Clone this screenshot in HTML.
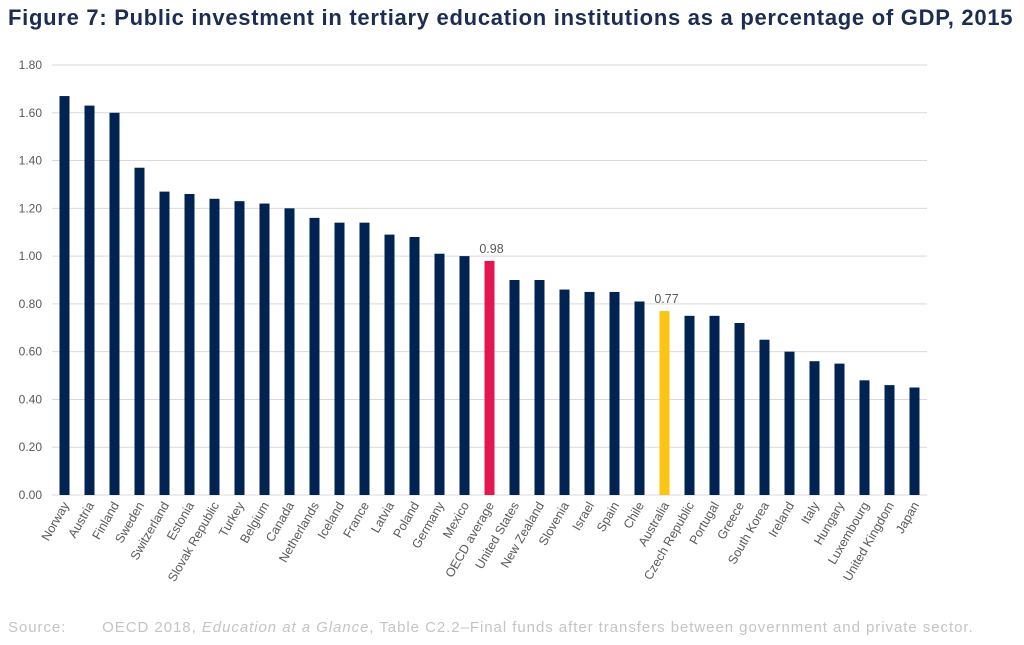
<!DOCTYPE html>
<html><head><meta charset="utf-8"><style>
body{margin:0;background:#fff;width:1024px;height:645px;overflow:hidden;font-family:"Liberation Sans",sans-serif}
#title{position:absolute;left:8px;top:5px;font-size:22px;font-weight:bold;color:#1b2d52;letter-spacing:0.72px;white-space:nowrap}
#src{position:absolute;left:8px;top:619px;font-size:15px;color:#c4c4c4;white-space:nowrap;letter-spacing:0.95px}
</style></head><body>
<div id="title">Figure 7: Public investment in tertiary education institutions as a percentage of GDP, 2015</div>
<svg id="chart" width="1024" height="645" style="position:absolute;left:0;top:0"></svg>
<div id="src">Source:&nbsp;&nbsp;&nbsp;&nbsp;&nbsp;&nbsp;&nbsp;OECD 2018, <i>Education at a Glance</i>, Table C2.2–Final funds after transfers between government and private sector.</div>
<script>
const categories=["Norway","Austria","Finland","Sweden","Switzerland","Estonia","Slovak Republic","Turkey","Belgium","Canada","Netherlands","Iceland","France","Latvia","Poland","Germany","Mexico","OECD average","United States","New Zealand","Slovenia","Israel","Spain","Chile","Australia","Czech Republic","Portugal","Greece","South Korea","Ireland","Italy","Hungary","Luxembourg","United Kingdom","Japan"];
const values=[1.67,1.63,1.60,1.37,1.27,1.26,1.24,1.23,1.22,1.20,1.16,1.14,1.14,1.09,1.08,1.01,1.00,0.98,0.90,0.90,0.86,0.85,0.85,0.81,0.77,0.75,0.75,0.72,0.65,0.60,0.56,0.55,0.48,0.46,0.45];
const ticks=[0,0.2,0.4,0.6,0.8,1.0,1.2,1.4,1.6,1.8];
const highlights={"OECD average":"#e3174f","Australia":"#fcc413"};
const labelled=["OECD average","Australia"];
const svg=document.getElementById('chart');const NS="http://www.w3.org/2000/svg";
const x0=52,x1=927,y0=495,y1=65,ymax=1.8;
const band=(x1-x0)/categories.length;
const y=v=>y0-(v/ymax)*(y0-y1);
const xc=i=>x0+band*(i+0.5);
function mk(t,a){const e=document.createElementNS(NS,t);for(const k in a)e.setAttribute(k,a[k]);svg.appendChild(e);return e;}
ticks.forEach(t=>{
 const g=mk('line',{x1:x0,x2:x1,y1:y(t),y2:y(t),stroke:'#d9d9d9','stroke-width':1});
 
 
 const l=mk('text',{x:42,y:y(t)+4,'text-anchor':'end','font-size':12,fill:'#595959'});
 l.textContent=t.toFixed(2);
 
 
});
categories.forEach((c,i)=>{
 const v=values[i];
 const r=mk('rect',{x:xc(i)-5,y:y(v),width:10,height:y0-y(v),fill:highlights[c]||'#002352'});
 
 
 const t=mk('text',{x:0,y:0,'text-anchor':'end','font-size':12.5,fill:'#595959',transform:`translate(${xc(i)+5},${y0+10}) rotate(-60)`});
 t.textContent=c;
 
 
 if(labelled.includes(c)){
  const d=mk('text',{x:xc(i)+2,y:y(v)-8,'text-anchor':'middle','font-size':12.5,fill:'#595959'});
  d.textContent=v.toFixed(2);
  
  
 }
});
</script>
</body></html>
